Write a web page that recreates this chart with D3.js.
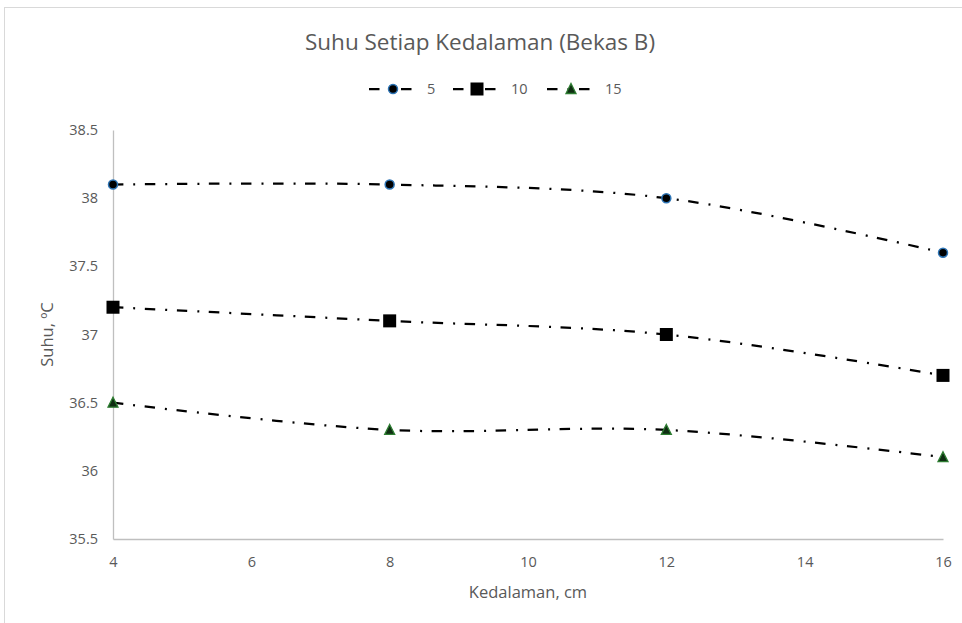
<!DOCTYPE html>
<html>
<head>
<meta charset="utf-8">
<script src="https://cdn.jsdelivr.net/npm/d3@7"></script>
<style>
  body { margin: 0; background: #fff; }
  text { font-family: 'Open Sans', 'Liberation Sans', sans-serif; fill: #595959; }
</style>
</head>
<body>
<svg width="962" height="623"></svg>
<script>
// Data
const depths = [4, 8, 12, 16]
const seriesNames = ['5', '10', '15']
const temp5 = [38.1, 38.1, 38.0, 37.6]
const temp10 = [37.2, 37.1, 37.0, 36.7]
const temp15 = [36.5, 36.3, 36.3, 36.1]
const xTicks = [4, 6, 8, 10, 12, 14, 16]
const yTicks = [35.5, 36, 36.5, 37, 37.5, 38, 38.5]

const series = [
  {name: seriesNames[0], values: temp5, marker: 'circle'},
  {name: seriesNames[1], values: temp10, marker: 'square'},
  {name: seriesNames[2], values: temp15, marker: 'triangle'}
]

const svg = d3.select('svg')
const margin = {left: 113, right: 19, top: 130, bottom: 84}
const width = +svg.attr('width')
const height = +svg.attr('height')
const dash = '10.5,10,2,9.5'

// Outer chart frame
svg.append('rect')
  .attr('x', 4.5).attr('y', 7.5)
  .attr('width', 970).attr('height', 630)
  .attr('fill', 'none').attr('stroke', '#d9d9d9')

const x = d3.scaleLinear().domain([4, 16]).range([margin.left, width - margin.right])
const y = d3.scaleLinear().domain([35.5, 38.5]).range([height - margin.bottom, margin.top])

// Axes
const xAxis = svg.append('g')
  .attr('transform', `translate(0,${y(35.5)})`)
  .call(d3.axisBottom(x).tickValues(xTicks).tickSize(0).tickPadding(18).tickFormat(d3.format('d')))
const yAxis = svg.append('g')
  .attr('transform', `translate(${x(4)},0)`)
  .call(d3.axisLeft(y).tickValues(yTicks).tickSize(0).tickPadding(15).tickFormat(d => d))
xAxis.select('.domain').attr('stroke', '#bfbfbf').attr('stroke-width', 1.3)
yAxis.select('.domain').attr('stroke', '#bfbfbf').attr('stroke-width', 1.3)
svg.selectAll('.tick text').attr('font-size', 14.5).attr('fill', '#595959')
  .style('font-family', "'Open Sans', 'Liberation Sans', sans-serif")

// Titles
svg.append('text')
  .attr('x', 480).attr('y', 50)
  .attr('text-anchor', 'middle').attr('font-size', 22.5)
  .text('Suhu Setiap Kedalaman (Bekas B)')
svg.append('text')
  .attr('x', (x(4) + x(16)) / 2).attr('y', 598)
  .attr('text-anchor', 'middle').attr('font-size', 16.5)
  .text('Kedalaman, cm')
svg.append('text')
  .attr('transform', `translate(53,${(y(35.5) + y(38.5)) / 2}) rotate(-90)`)
  .attr('text-anchor', 'middle').attr('font-size', 16.5)
  .text('Suhu, ºC')

// Markers
function drawMarker (g, type, cx, cy) {
  if (type === 'circle') {
    g.append('circle').attr('cx', cx).attr('cy', cy).attr('r', 4.5)
      .attr('fill', '#000').attr('stroke', '#2e75b6').attr('stroke-width', 1.5)
  } else if (type === 'square') {
    g.append('rect').attr('x', cx - 6.5).attr('y', cy - 6.5)
      .attr('width', 13).attr('height', 13).attr('fill', '#000')
  } else {
    const s = 10
    g.append('path')
      .attr('d', `M${cx},${cy - s * 0.55}L${cx + s / 2},${cy + s * 0.45}L${cx - s / 2},${cy + s * 0.45}Z`)
      .attr('fill', '#0f2e12').attr('stroke', '#2e7d32').attr('stroke-width', 1.3)
  }
}

// Smoothed lines (Excel smoothing ~ cardinal with tension 0)
const line = d3.line()
  .x((d, i) => x(depths[i]))
  .y(d => y(d))
  .curve(d3.curveCardinal.tension(0))

series.forEach(s => {
  svg.append('path')
    .attr('d', line(s.values))
    .attr('fill', 'none').attr('stroke', '#000')
    .attr('stroke-width', 2.25).attr('stroke-dasharray', dash)
  const g = svg.append('g')
  s.values.forEach((v, i) => drawMarker(g, s.marker, x(depths[i]), y(v)))
})

// Legend
const legendX = [369, 453, 547]
const legendY = 89
series.forEach((s, i) => {
  const g = svg.append('g')
  g.append('line')
    .attr('x1', legendX[i]).attr('x2', legendX[i] + 43)
    .attr('y1', legendY).attr('y2', legendY)
    .attr('stroke', '#000').attr('stroke-width', 2.25).attr('stroke-dasharray', dash)
  drawMarker(g, s.marker, legendX[i] + 24, legendY)
  g.append('text')
    .attr('x', legendX[i] + 58).attr('y', legendY + 5)
    .attr('font-size', 14.5)
    .text(s.name)
})
</script>
</body>
</html>
